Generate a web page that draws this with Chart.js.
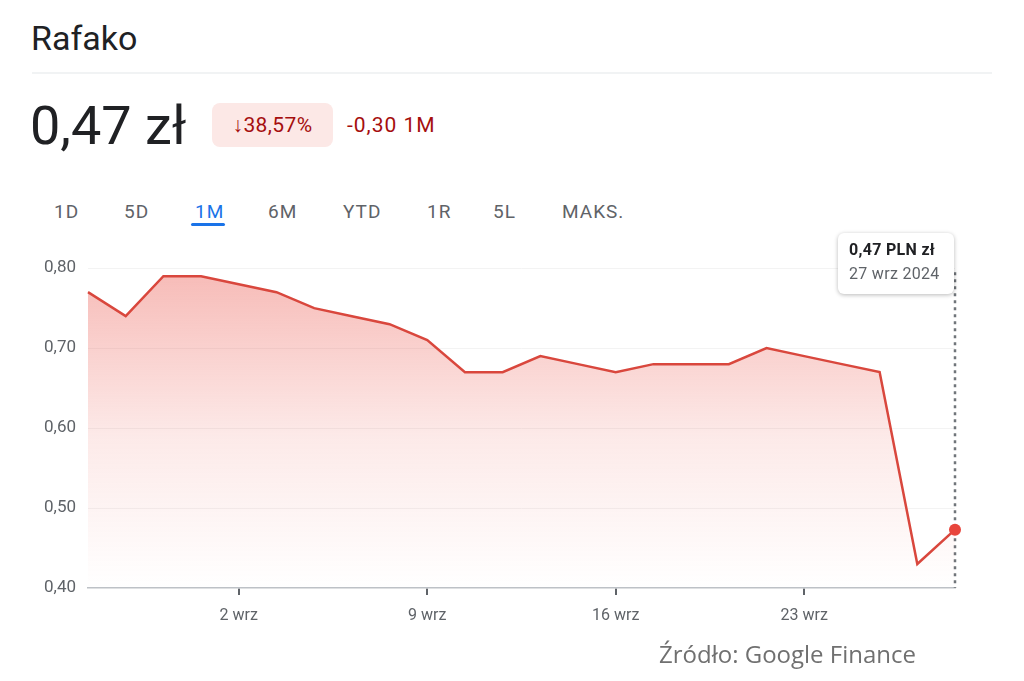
<!DOCTYPE html>
<html lang="pl">
<head>
<meta charset="utf-8">
<title>Rafako</title>
<script src="https://cdn.jsdelivr.net/npm/chart.js@4.4.1/dist/chart.umd.min.js"></script>
<style>
  body { margin: 0; background: #fff; font-family: Roboto, "Noto Sans", sans-serif; color: #202124; }
  .page { position: relative; width: 1024px; height: 681px; overflow: hidden; }
  .title { position: absolute; left: 31px; top: 14px; font-size: 34px; line-height: 48px; }
  .divider { position: absolute; left: 32px; top: 72px; width: 960px; height: 2px; background: #f1f3f4; }
  .price { position: absolute; left: 30px; top: 96px; font-size: 54px; line-height: 60px; }
  .badge { position: absolute; left: 212px; top: 103px; width: 121px; height: 44px; background: #fce8e6;
           border-radius: 8px; color: #a50e0e; font-size: 21px; line-height: 44px; text-align: center; letter-spacing: 0.4px; }
  .change { position: absolute; left: 347px; top: 103px; color: #a50e0e; font-size: 21px; line-height: 44px; letter-spacing: 1px; }
  .tab { position: absolute; top: 199px; font-size: 19px; line-height: 26px; color: #5f6368; letter-spacing: 1px; }
  .tab.active { color: #1a73e8; }
  .underline { position: absolute; left: 191px; top: 223px; width: 34px; height: 3px; border-radius: 2px; background: #1a73e8; }
  .chart-box { position: absolute; left: 0; top: 230px; width: 1024px; height: 410px; }
  .tip { position: absolute; left: 838px; top: 233px; width: 116px; height: 61px; background: #fff;
         border-radius: 6px; box-shadow: 0 1px 4px rgba(0,0,0,0.28); box-sizing: border-box; padding: 4px 0 0 11px; }
  .tip .v { font-size: 16px; font-weight: bold; line-height: 25px; color: #202124; letter-spacing: 0.3px; }
  .tip .d { font-size: 16px; line-height: 24px; color: #5f6368; letter-spacing: 0.3px; }
  .source { position: absolute; left: 659px; top: 638px; font-family: "Open Sans", sans-serif; font-size: 24px;
            line-height: 32px; color: #707070; }
</style>
</head>
<body>
<div class="page">
  <div class="title">Rafako</div>
  <div class="divider"></div>
  <div class="price">0,47 zł</div>
  <div class="badge">↓38,57%</div>
  <div class="change">-0,30 1M</div>
  <div class="tab" style="left:54px">1D</div>
  <div class="tab" style="left:124px">5D</div>
  <div class="tab active" style="left:195px">1M</div>
  <div class="tab" style="left:268px">6M</div>
  <div class="tab" style="left:343px">YTD</div>
  <div class="tab" style="left:427px">1R</div>
  <div class="tab" style="left:493px">5L</div>
  <div class="tab" style="left:562px">MAKS.</div>
  <div class="underline"></div>
  <div class="chart-box"><canvas id="priceChart"></canvas></div>
  <div class="tip"><div class="v">0,47 PLN zł</div><div class="d">27 wrz 2024</div></div>
  <div class="source">Źródło: Google Finance</div>
</div>
<script>
// trading days, 27 sie - 27 wrz 2024
const dates = [
  '27 sie', '28 sie', '29 sie', '30 sie',
  '2 wrz', '3 wrz', '4 wrz', '5 wrz', '6 wrz',
  '9 wrz', '10 wrz', '11 wrz', '12 wrz', '13 wrz',
  '16 wrz', '17 wrz', '18 wrz', '19 wrz', '20 wrz',
  '23 wrz', '24 wrz', '25 wrz', '26 wrz', '27 wrz'
];
const prices = [
  0.77, 0.74, 0.79, 0.79,
  0.78, 0.77, 0.75, 0.74, 0.73,
  0.71, 0.67, 0.67, 0.69, 0.68,
  0.67, 0.68, 0.68, 0.68, 0.70,
  0.69, 0.68, 0.67, 0.43, 0.473
];
const xTickLabels = ['2 wrz', '9 wrz', '16 wrz', '23 wrz'];
const yTicks = [0.40, 0.50, 0.60, 0.70, 0.80];

const lastIdx = prices.length - 1;

const cursorLine = {
  id: 'cursorLine',
  beforeDatasetsDraw(chart) {
    const pt = chart.getDatasetMeta(0).data[lastIdx];
    const area = chart.chartArea;
    const ctx = chart.ctx;
    ctx.save();
    ctx.strokeStyle = '#70757a';
    ctx.lineWidth = 2.5;
    ctx.setLineDash([3, 4]);
    ctx.beginPath();
    ctx.moveTo(pt.x, area.top + 20);
    ctx.lineTo(pt.x, area.bottom);
    ctx.stroke();
    ctx.restore();
  }
};

const ctx = document.getElementById('priceChart').getContext('2d');
new Chart(ctx, {
  type: 'line',
  data: {
    labels: dates,
    datasets: [{
      data: prices,
      borderColor: '#d9473d',
      borderWidth: 2.5,
      tension: 0,
      fill: 'start',
      backgroundColor: (c) => {
        const area = c.chart.chartArea;
        if (!area) return 'rgba(234,80,70,0.3)';
        const g = c.chart.ctx.createLinearGradient(0, area.top, 0, area.bottom);
        g.addColorStop(0, 'rgba(234,80,70,0.42)');
        g.addColorStop(0.55, 'rgba(234,80,70,0.12)');
        g.addColorStop(1, 'rgba(234,80,70,0.0)');
        return g;
      },
      pointRadius: (c) => c.dataIndex === lastIdx ? 6 : 0,
      pointHoverRadius: 0,
      pointBackgroundColor: '#e8453c',
      pointBorderWidth: 0
    }]
  },
  options: {
    responsive: true,
    maintainAspectRatio: false,
    animation: false,
    layout: { padding: { top: 22, right: 69, left: 0, bottom: 0 } },
    plugins: { legend: { display: false }, tooltip: { enabled: false } },
    scales: {
      x: {
        offset: false,
        afterFit: (s) => { s.height = 52; },
        afterBuildTicks: (s) => {
          s.ticks = s.ticks.filter(t => xTickLabels.includes(dates[t.value]));
        },
        ticks: {
          autoSkip: false,
          maxRotation: 0,
          color: '#5f6368',
          font: { family: 'Roboto', size: 16 },
          padding: 11,
          callback: function (v) { return this.getLabelForValue(v); }
        },
        grid: { drawOnChartArea: false, drawTicks: true, tickLength: 7, color: '#5f6368', lineWidth: 2 },
        border: { display: true, color: '#bdc1c6', width: 1.5 }
      },
      y: {
        min: 0.40,
        max: 0.82,
        afterFit: (s) => { s.width = 88; },
        afterBuildTicks: (s) => { s.ticks = yTicks.map(v => ({ value: v })); },
        ticks: {
          color: '#5f6368',
          font: { family: 'Roboto', size: 17 },
          padding: 12,
          callback: (v) => v.toFixed(2).replace('.', ',')
        },
        grid: {
          drawTicks: false,
          color: (c) => c.tick && c.tick.value === 0.40 ? 'rgba(0,0,0,0)' : '#f3f3f3',
          lineWidth: 1
        },
        border: { display: false }
      }
    }
  },
  plugins: [cursorLine]
});
</script>
</body>
</html>
